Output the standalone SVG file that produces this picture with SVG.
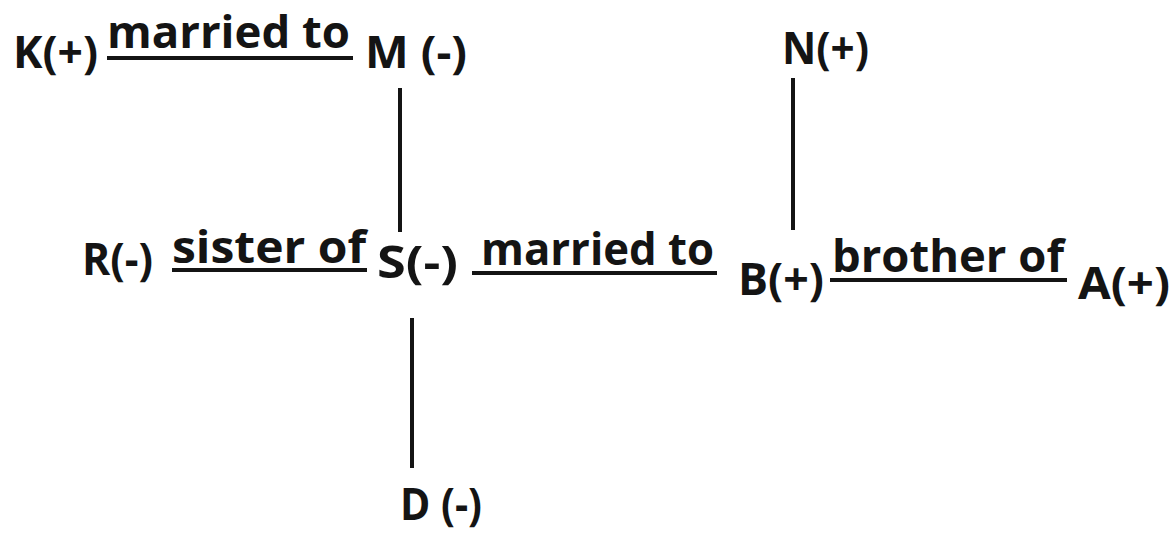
<svg xmlns="http://www.w3.org/2000/svg" width="1174" height="534" viewBox="0 0 1174 534">
<style>
.t{font-family:"Open Sans","Noto Sans","Liberation Sans",sans-serif;font-weight:bold;font-size:45px;fill:#141414}
.s{font-size:44px}
.c{stroke:#141414;stroke-width:4;fill:none}
</style>
<rect width="1174" height="534" fill="#ffffff"/>
<g id="connectors">
<line class="c" x1="107" y1="58" x2="353" y2="58"/>
<line class="c" x1="172" y1="270" x2="367" y2="270"/>
<line class="c" x1="472" y1="273" x2="717" y2="273"/>
<line class="c" x1="830" y1="280" x2="1067" y2="280"/>
<line class="c" x1="400" y1="88" x2="400" y2="232"/>
<line class="c" x1="793" y1="78" x2="793" y2="230"/>
<line class="c" x1="412" y1="318" x2="412" y2="468"/>
<text class="t s" x="107" y="48" textLength="243" lengthAdjust="spacingAndGlyphs">married to</text>
<text class="t" x="172" y="263" textLength="194" lengthAdjust="spacingAndGlyphs">sister of</text>
<text class="t" x="481" y="265" textLength="233" lengthAdjust="spacingAndGlyphs">married to</text>
<text class="t" x="832" y="272" textLength="232" lengthAdjust="spacingAndGlyphs">brother of</text>
</g>
<g id="K"><text class="t" x="13" y="68" textLength="85" lengthAdjust="spacingAndGlyphs">K(+)</text></g>
<g id="M"><text class="t" x="365" y="68" textLength="102" lengthAdjust="spacingAndGlyphs">M (-)</text></g>
<g id="N"><text class="t" x="782" y="64" textLength="87" lengthAdjust="spacingAndGlyphs">N(+)</text></g>
<g id="R"><text class="t" x="82" y="275" textLength="71" lengthAdjust="spacingAndGlyphs">R(-)</text></g>
<g id="S"><text class="t" x="377" y="278" textLength="81" lengthAdjust="spacingAndGlyphs">S(-)</text></g>
<g id="B"><text class="t" x="738" y="295" textLength="86" lengthAdjust="spacingAndGlyphs">B(+)</text></g>
<g id="A"><text class="t" x="1078" y="299" textLength="92" lengthAdjust="spacingAndGlyphs">A(+)</text></g>
<g id="D"><text class="t" x="400" y="520" textLength="82" lengthAdjust="spacingAndGlyphs">D (-)</text></g>
</svg>
